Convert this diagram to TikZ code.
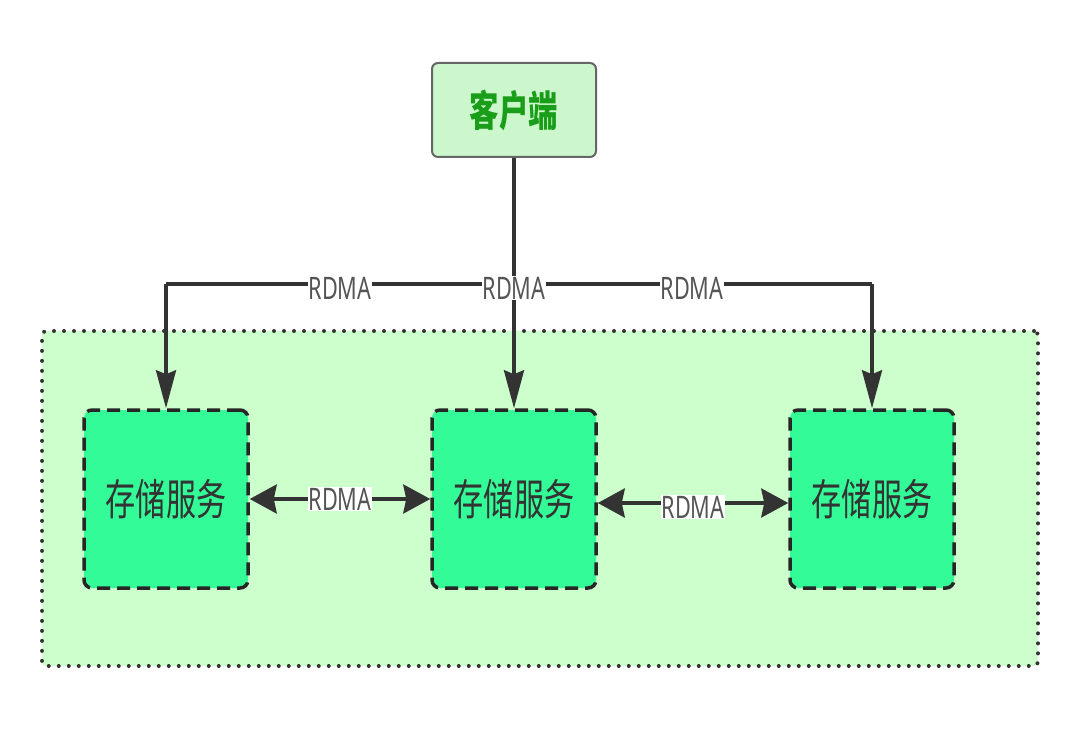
\documentclass[tikz,border=0pt]{standalone}
\usepackage{fontspec}
\newfontfamily\cjkfont{Noto Sans CJK SC}
\newfontfamily\latfont{Noto Sans}
\usetikzlibrary{arrows.meta}
\definecolor{clientfill}{HTML}{CCF7CC}
\definecolor{clientedge}{HTML}{666666}
\definecolor{clienttext}{HTML}{1A9E1A}
\definecolor{groupfill}{HTML}{CCFFCC}
\definecolor{storefill}{HTML}{33FB98}
\definecolor{edgecol}{HTML}{333333}
\definecolor{labcol}{HTML}{555555}
\tikzset{
  clientbox/.style={draw=clientedge, fill=clientfill, line width=2pt, rounded corners=6pt,
    minimum width=164pt, minimum height=94pt, inner sep=0pt},
  groupbox/.style={draw=edgecol, fill=groupfill, line width=4pt, line cap=round,
    dash pattern=on 0pt off 10pt, rounded corners=4pt,
    minimum width=996pt, minimum height=335pt, inner sep=0pt},
  storebox/.style={draw=black!85, fill=storefill, line width=3.5pt, dash pattern=on 13pt off 7pt,
    rounded corners=8pt, minimum width=164pt, minimum height=178pt, inner sep=0pt},
  conn/.style={draw=edgecol, line width=3.5pt},
  tipv/.style={-{Stealth[length=38pt,width=20pt,inset=4pt]}},
  tips/.style={{Stealth[length=27pt,width=29pt,inset=3pt]}-{Stealth[length=27pt,width=29pt,inset=3pt]}},
  lab/.style={fill=white, inner sep=1pt, text=labcol, font=\latfont\fontsize{31}{34}\selectfont}
}
\newcommand{\sqz}[1]{\scalebox{0.7}[1]{#1}}
\begin{document}
\begin{tikzpicture}[x=1pt,y=-1pt]
\useasboundingbox (0,0) rectangle (1080,730);
\fill[white] (0,0) rectangle (1080,730);
\node[groupbox] (group) at (540,498.5) {};
\node[clientbox] (client) at (514,110) {\sqz{\cjkfont\fontsize{42}{46}\selectfont\bfseries\color{clienttext}客户端}};
\node[storebox] (s1) at (166,499) {\sqz{\cjkfont\fontsize{43}{46}\selectfont\color{edgecol}存储服务}};
\node[storebox] (s2) at (514,499) {\sqz{\cjkfont\fontsize{43}{46}\selectfont\color{edgecol}存储服务}};
\node[storebox] (s3) at (872,499) {\sqz{\cjkfont\fontsize{43}{46}\selectfont\color{edgecol}存储服务}};
\coordinate (j) at (514,284);
\coordinate (l) at (166,284);
\coordinate (r) at (872,284);
\draw[conn] (client.south) -- (j);
\draw[conn] (l) -- (r);
\draw[conn,tipv] (l) -- (s1.north);
\draw[conn,tipv] (j) -- (s2.north);
\draw[conn,tipv] (r) -- (s3.north);
\node[lab] (t1) at (340,288) {\sqz{RDMA}};
\node[lab] (t2) at (514,288) {\sqz{RDMA}};
\node[lab] (t3) at (692,288) {\sqz{RDMA}};
\draw[conn,tips] (s1.east) -- node[lab] (b1) {\sqz{RDMA}} (s2.west);
\draw[conn,tips] ([yshift=-4pt]s2.east) -- node[lab,yshift=-4pt] (b2) {\sqz{RDMA}} ([yshift=-4pt]s3.west);
\end{tikzpicture}
\end{document}
